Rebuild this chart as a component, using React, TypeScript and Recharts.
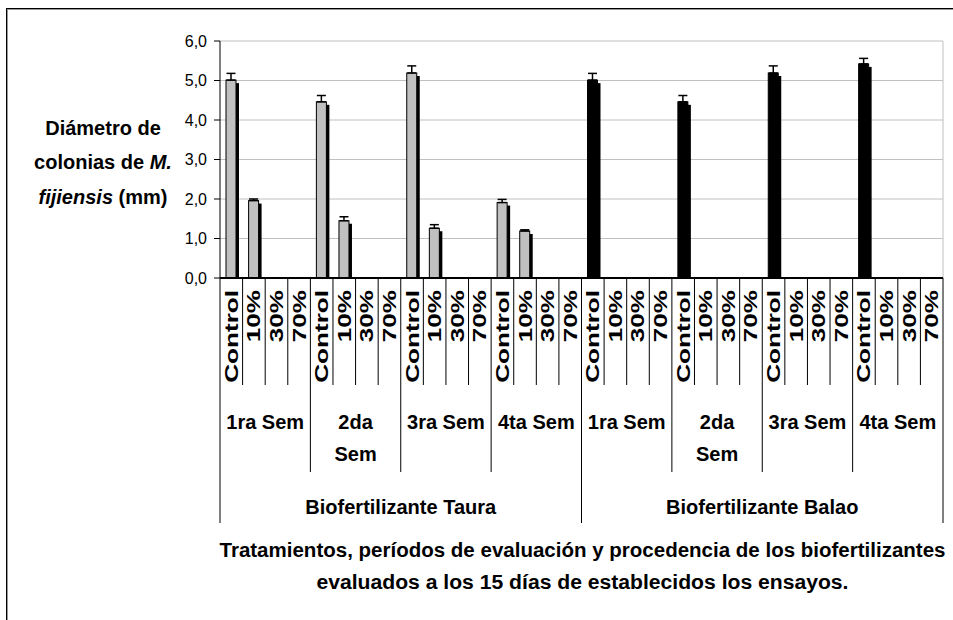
import React from "react";
import { ComposedChart, Bar, XAxis, YAxis, CartesianGrid, ErrorBar } from "recharts";

const FONT = '"Liberation Sans", Arial, sans-serif';

const sources = ["Biofertilizante Taura", "Biofertilizante Balao"];
const weeks = ["1ra Sem", "2da\nSem", "3ra Sem", "4ta Sem"];
const treatments = ["Control", "10%", "30%", "70%"];
const yTicks = [0, 1, 2, 3, 4, 5, 6];

// Control, 10%, 30%, 70% for each week
const tauraMeans = [5.01, 1.96, 0, 0, 4.46, 1.45, 0, 0, 5.19, 1.26, 0, 0, 1.91, 1.19, 0, 0];
const tauraErr = [0.17, 0.04, 0, 0, 0.16, 0.1, 0, 0, 0.18, 0.09, 0, 0, 0.08, 0.03, 0, 0];
const balaoMeans = [5.01, 0, 0, 0, 4.46, 0, 0, 0, 5.19, 0, 0, 0, 5.42, 0, 0, 0];
const balaoErr = [0.17, 0, 0, 0, 0.16, 0, 0, 0, 0.18, 0, 0, 0, 0.14, 0, 0, 0];

const data = sources.flatMap((src, s) =>
  weeks.flatMap((wk, w) =>
    treatments.map((t, k) => {
      const i = w * 4 + k;
      const m = s === 0 ? tauraMeans[i] : balaoMeans[i];
      const e = s === 0 ? tauraErr[i] : balaoErr[i];
      return { name: t, week: wk, source: src, group: s, value: m, err: [0, e] };
    })
  )
);

function ShadowBar(props: any) {
  const { x, y, width, height, payload } = props;
  if (!height || height <= 0) return <g />;
  const fill = payload && payload.group === 1 ? "#000" : "#c0c0c0";
  return (
    <g>
      <rect x={x + 3} y={y + 3} width={width} height={Math.max(height - 3, 0)} fill="#000" />
      <rect x={x} y={y} width={width} height={height} fill={fill} stroke="#000" strokeWidth={1} />
    </g>
  );
}

function CategoryTick(props: any) {
  const { x, y, payload, index } = props;
  const half = payload && payload.offset ? payload.offset : 723 / 64;
  const row = data[index];
  const left = x - half;
  const right = x + half;
  const depth = index % 16 === 0 ? 245 : index % 4 === 0 ? 194 : 107;
  const weekLines = row.week.split("\n");
  return (
    <g>
      <line x1={left} y1={y} x2={left} y2={y + depth} stroke="#000" strokeWidth={1} />
      {index === data.length - 1 && (
        <line x1={right} y1={y} x2={right} y2={y + 245} stroke="#000" strokeWidth={1} />
      )}
      <text
        transform={`translate(${x},${y + 12}) rotate(-90) scale(1.45,1)`}
        textAnchor="end"
        dy="0.36em"
        fontSize={18}
        fontWeight="bold"
        fontFamily={FONT}
        fill="#000"
      >
        {payload.value}
      </text>
      {index % 4 === 0 &&
        weekLines.map((ln: string, j: number) => (
          <text
            key={j}
            x={left + half * 4}
            y={y + 144 + j * 32}
            textAnchor="middle"
            dy="0.36em"
            fontSize={20}
            fontWeight="bold"
            fontFamily={FONT}
            fill="#000"
          >
            {ln}
          </text>
        ))}
      {index % 16 === 0 && (
        <text
          x={left + half * 16}
          y={y + 229}
          textAnchor="middle"
          dy="0.36em"
          fontSize={20}
          fontWeight="bold"
          fontFamily={FONT}
          fill="#000"
        >
          {row.source}
        </text>
      )}
    </g>
  );
}

function TitleLabel(props: any) {
  const vb = props.viewBox || { x: 220, y: 278, width: 723 };
  const cx = vb.x + vb.width / 2 + 1;
  return (
    <g fontFamily={FONT} fontWeight="bold" fontSize={20} fill="#000">
      <text x={cx} y={vb.y + 272} textAnchor="middle" dy="0.36em" textLength={726} lengthAdjust="spacingAndGlyphs">
        Tratamientos, períodos de evaluación y procedencia de los biofertilizantes
      </text>
      <text x={cx} y={vb.y + 304} textAnchor="middle" dy="0.36em" textLength={532} lengthAdjust="spacingAndGlyphs">
        evaluados a los 15 días de establecidos los ensayos.
      </text>
    </g>
  );
}

function YTitle(props: any) {
  const vb = props.viewBox || { x: 0, y: 41 };
  const cx = 103;
  return (
    <g fontFamily={FONT} fontWeight="bold" fontSize={20} fill="#000">
      <text x={cx} y={vb.y + 87} textAnchor="middle" dy="0.36em">
        Diámetro de
      </text>
      <text x={cx} y={vb.y + 121} textAnchor="middle" dy="0.36em">
        colonias de <tspan fontStyle="italic">M.</tspan>
      </text>
      <text x={cx} y={vb.y + 156} textAnchor="middle" dy="0.36em">
        <tspan fontStyle="italic">fijiensis</tspan> (mm)
      </text>
    </g>
  );
}

export default function App() {
  return (
    <div style={{ position: "absolute", left: 0, top: 0, width: 953, height: 620, background: "#fff", overflow: "hidden" }}>
      <div
        style={{
          position: "absolute",
          left: 6,
          top: 8,
          width: 960,
          height: 630,
          borderTop: "1px solid #000",
          borderLeft: "1px solid #000",
          boxShadow: "inset 1px 1px 0 #999",
        }}
      />
      <div style={{ position: "absolute", left: 0, top: 0 }}>
        <ComposedChart
          width={953}
          height={620}
          data={data}
          margin={{ top: 41, right: 10, bottom: 0, left: 0 }}
          barSize={10}
        >
          <CartesianGrid
            stroke="#c0c0c0"
            strokeWidth={1}
            verticalCoordinatesGenerator={(p: any) => [p.offset.left + p.offset.width]}
          />
          <XAxis
            dataKey="name"
            interval={0}
            height={342}
            tickLine={false}
            tickSize={0}
            tickMargin={0}
            axisLine={{ stroke: "#000", strokeWidth: 2 }}
            tick={<CategoryTick />}
            label={{ content: (p: any) => <TitleLabel {...p} /> }}
          />
          <YAxis
            width={220}
            domain={[0, 6]}
            ticks={yTicks}
            interval={0}
            tickSize={6}
            tickMargin={7}
            axisLine={{ stroke: "#000", strokeWidth: 1 }}
            tickLine={{ stroke: "#000" }}
            tick={{ fontSize: 16, fill: "#000", fontFamily: FONT }}
            tickFormatter={(v: number) => v.toFixed(1).replace(".", ",")}
            label={{ content: (p: any) => <YTitle {...p} /> }}
          />
          <Bar dataKey="value" shape={<ShadowBar />} isAnimationActive={false}>
            <ErrorBar dataKey="err" width={4.5} stroke="#000" strokeWidth={1.5} direction="y" />
          </Bar>
        </ComposedChart>
      </div>
    </div>
  );
}
